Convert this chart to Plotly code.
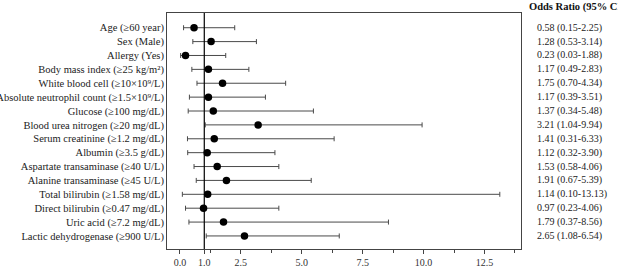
import plotly.graph_objects as go

labels = [
    "Age (≥60 year)", "Sex (Male)", "Allergy (Yes)", "Body mass index (≥25 kg/m²)",
    "White blood cell (≥10×10⁹/L)", "Absolute neutrophil count (≥1.5×10⁹/L)",
    "Glucose (≥100 mg/dL)", "Blood urea nitrogen (≥20 mg/dL)",
    "Serum creatinine (≥1.2 mg/dL)", "Albumin (≥3.5 g/dL)",
    "Aspartate transaminase (≥40 U/L)", "Alanine transaminase (≥45 U/L)",
    "Total bilirubin (≥1.58 mg/dL)", "Direct bilirubin (≥0.47 mg/dL)",
    "Uric acid (≥7.2 mg/dL)", "Lactic dehydrogenase (≥900 U/L)",
]
odds = [0.58, 1.28, 0.23, 1.17, 1.75, 1.17, 1.37, 3.21, 1.41, 1.12, 1.53, 1.91, 1.14, 0.97, 1.79, 2.65]
lower = [0.15, 0.53, 0.03, 0.49, 0.70, 0.39, 0.34, 1.04, 0.31, 0.32, 0.58, 0.67, 0.10, 0.23, 0.37, 1.08]
upper = [2.25, 3.14, 1.88, 2.83, 4.34, 3.51, 5.48, 9.94, 6.33, 3.90, 4.06, 5.39, 13.13, 4.06, 8.56, 6.54]
xtick_vals = [0, 1, 2.5, 5, 7.5, 10, 12.5]
xtick_text = ["0.0", "1.0", "2.5", "5.0", "7.5", "10.0", "12.5"]
minor_vals = [1.25, 3.75, 6.25, 8.75, 11.25, 13.75]
header = "Odds Ratio (95% CI)"

ypos = list(range(len(labels)))
FONT = "Liberation Serif"

fig = go.Figure()
fig.add_trace(go.Scatter(
    x=odds, y=ypos, mode="markers",
    marker=dict(color="black", size=7.5, symbol="circle"),
    error_x=dict(type="data", symmetric=False,
                 array=[u - o for u, o in zip(upper, odds)],
                 arrayminus=[o - l for o, l in zip(odds, lower)],
                 color="#4a4a4a", thickness=1, width=2.5),
    showlegend=False, hoverinfo="skip",
))

fig.add_shape(type="line", xref="x", yref="paper", x0=1, x1=1, y0=0, y1=1,
              line=dict(color="black", width=1.2))

annotations = []
for i, (o, l, u) in enumerate(zip(odds, lower, upper)):
    annotations.append(dict(
        x=1.04, xref="paper", y=i, yref="y", xanchor="left", yanchor="middle",
        text=f"{o:.2f} ({l:.2f}-{u:.2f})", showarrow=False,
        font=dict(family=FONT, size=10, color="#222222"),
    ))
annotations.append(dict(
    x=1.018, xref="paper", y=1.025, yref="paper", xanchor="left", yanchor="middle",
    text=f"<b>{header}</b>", showarrow=False,
    font=dict(family=FONT, size=10.5, color="#111111"),
))

fig.update_layout(
    width=618, height=269,
    margin=dict(l=167, r=97, t=13, b=20),
    paper_bgcolor="white", plot_bgcolor="white",
    font=dict(family=FONT, size=10.5, color="#222222"),
    annotations=annotations,
    xaxis=dict(
        range=[-0.53, 14.0], tickvals=xtick_vals, ticktext=xtick_text,
        ticks="outside", ticklen=4, tickwidth=1, tickcolor="#444444",
        showline=True, linecolor="#444444", linewidth=1, mirror=True,
        showgrid=False, zeroline=False, automargin=False,
        tickfont=dict(family=FONT, size=10, color="#333333"),
        minor=dict(tickvals=minor_vals, ticks="outside", ticklen=3,
                   tickcolor="#444444", showgrid=False),
    ),
    yaxis=dict(
        range=[15.94, -1.06], tickvals=ypos, ticktext=labels,
        ticks="", showline=True, linecolor="#444444", linewidth=1, mirror=True,
        showgrid=False, zeroline=False, automargin=False,
        tickfont=dict(family=FONT, size=10.5, color="#222222"),
    ),
)

fig.write_html("out.html")
